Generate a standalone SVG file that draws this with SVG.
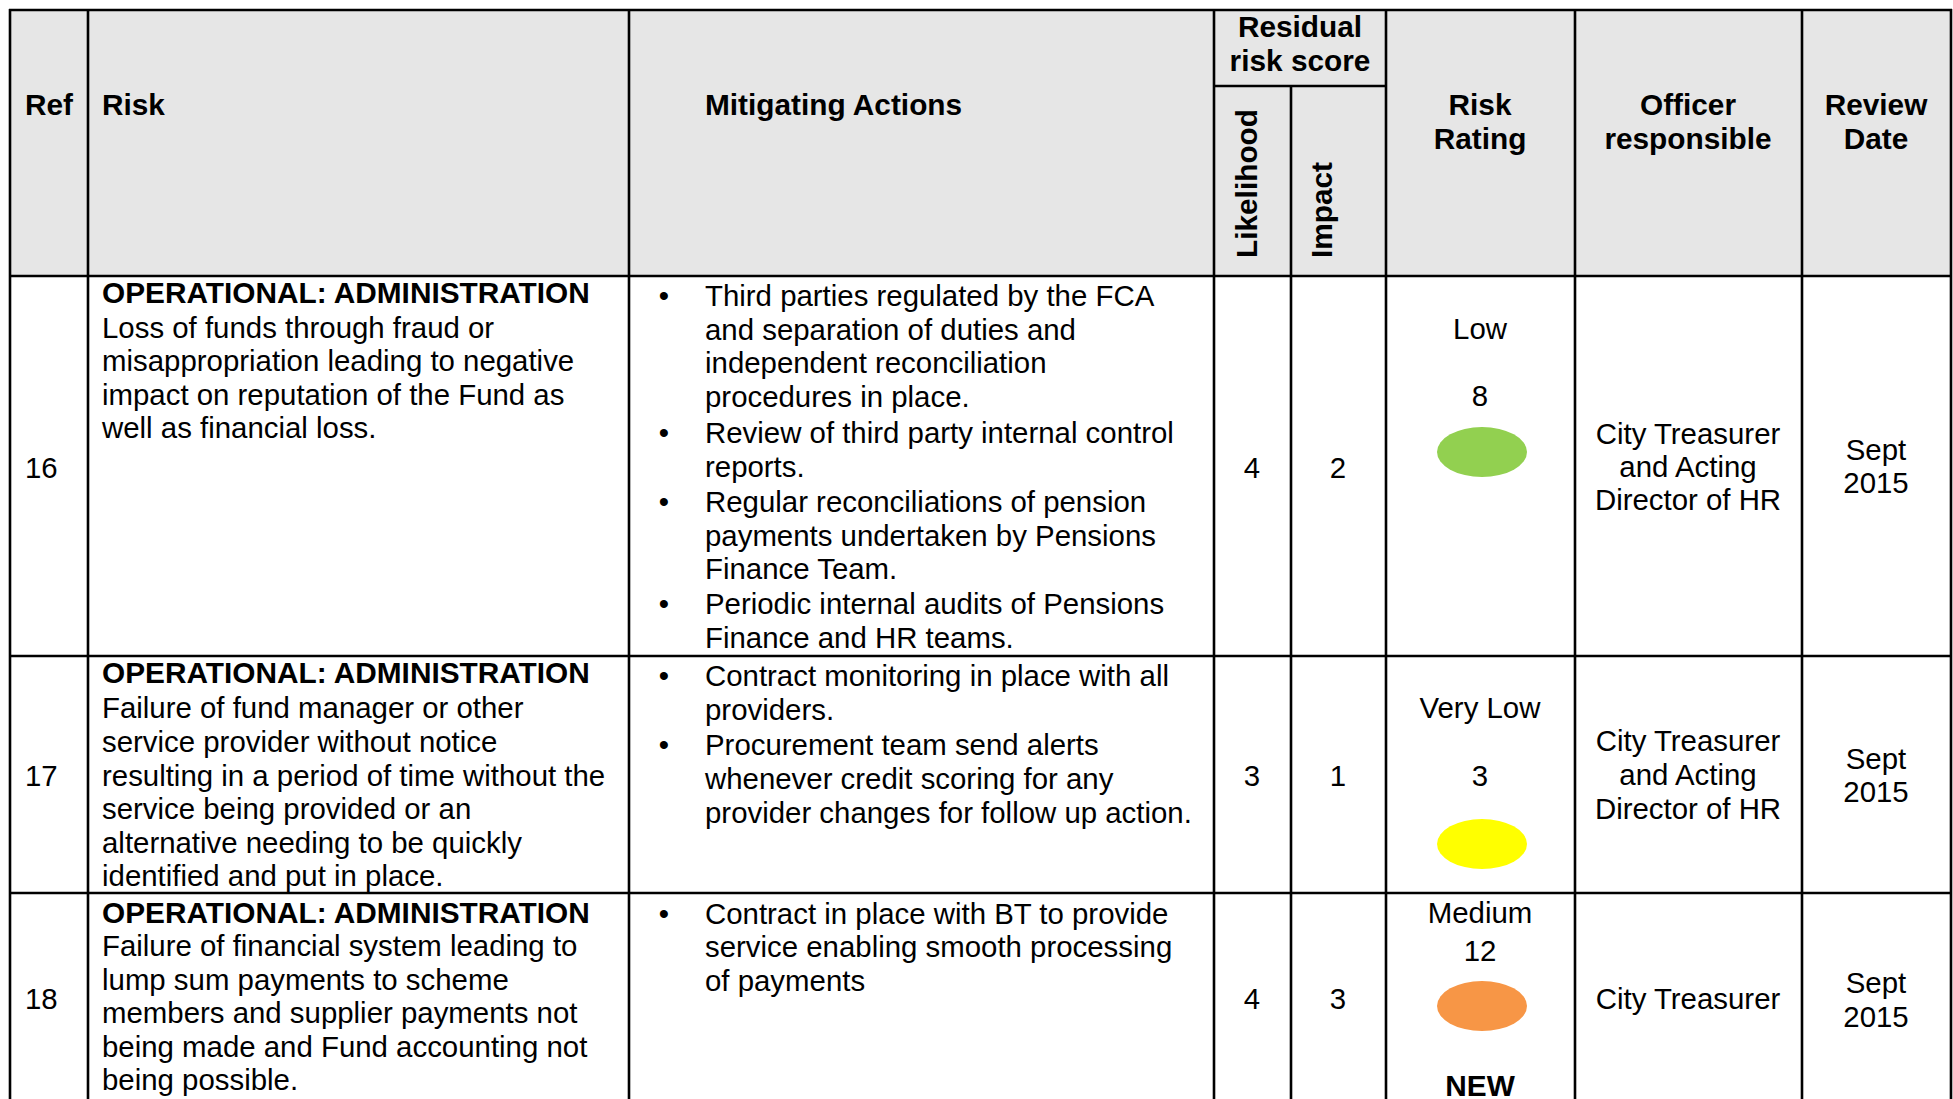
<svg xmlns="http://www.w3.org/2000/svg" width="1953" height="1099" viewBox="0 0 1953 1099">
<style>
text{font-family:"Liberation Sans",Arial,sans-serif;font-size:29.4px;fill:#000}
.b{font-weight:bold;font-size:29.8px}
.c{text-anchor:middle}
.grid line{stroke:#000;stroke-width:2.6}
</style>
<rect width="1953" height="1099" fill="#fff"/>
<rect x="10" y="10" width="1941" height="266" fill="#e6e6e6"/>

<g id="header">
<text class="b" x="25" y="115">Ref</text>
<text class="b" x="102" y="115">Risk</text>
<text class="b" x="705" y="115">Mitigating Actions</text>
<text class="b c" x="1300" y="37">Residual</text>
<text class="b c" x="1300" y="71">risk score</text>
<text class="b" transform="translate(1257,258) rotate(-90)">Likelihood</text>
<text class="b" transform="translate(1332,258) rotate(-90)">Impact</text>
<text class="b c" x="1480" y="115">Risk</text>
<text class="b c" x="1480" y="149">Rating</text>
<text class="b c" x="1688" y="115">Officer</text>
<text class="b c" x="1688" y="149">responsible</text>
<text class="b c" x="1876" y="115">Review</text>
<text class="b c" x="1876" y="149">Date</text>
</g>

<g id="row16">
<text x="25" y="478">16</text>
<text class="b" x="102" y="303">OPERATIONAL: ADMINISTRATION</text>
<text x="102" y="338">Loss of funds through fraud or</text>
<text x="102" y="371">misappropriation leading to negative</text>
<text x="102" y="405">impact on reputation of the Fund as</text>
<text x="102" y="438">well as financial loss.</text>
<text x="664" y="306" class="c">•</text>
<text x="705" y="306">Third parties regulated by the FCA</text>
<text x="705" y="340">and separation of duties and</text>
<text x="705" y="373">independent reconciliation</text>
<text x="705" y="407">procedures in place.</text>
<text x="664" y="443" class="c">•</text>
<text x="705" y="443">Review of third party internal control</text>
<text x="705" y="477">reports.</text>
<text x="664" y="512" class="c">•</text>
<text x="705" y="512">Regular reconciliations of pension</text>
<text x="705" y="546">payments undertaken by Pensions</text>
<text x="705" y="579">Finance Team.</text>
<text x="664" y="614" class="c">•</text>
<text x="705" y="614">Periodic internal audits of Pensions</text>
<text x="705" y="648">Finance and HR teams.</text>
<text class="c" x="1252" y="478">4</text>
<text class="c" x="1338" y="478">2</text>
<text class="c" x="1480" y="339">Low</text>
<text class="c" x="1480" y="406">8</text>
<ellipse cx="1482" cy="452" rx="45" ry="25" fill="#92d050"/>
<text class="c" x="1688" y="444">City Treasurer</text>
<text class="c" x="1688" y="477">and Acting</text>
<text class="c" x="1688" y="510">Director of HR</text>
<text class="c" x="1876" y="460">Sept</text>
<text class="c" x="1876" y="493">2015</text>
</g>

<g id="row17">
<text x="25" y="786">17</text>
<text class="b" x="102" y="683">OPERATIONAL: ADMINISTRATION</text>
<text x="102" y="718">Failure of fund manager or other</text>
<text x="102" y="752">service provider without notice</text>
<text x="102" y="786">resulting in a period of time without the</text>
<text x="102" y="819">service being provided or an</text>
<text x="102" y="853">alternative needing to be quickly</text>
<text x="102" y="886">identified and put in place.</text>
<text x="664" y="686" class="c">•</text>
<text x="705" y="686">Contract monitoring in place with all</text>
<text x="705" y="720">providers.</text>
<text x="664" y="755" class="c">•</text>
<text x="705" y="755">Procurement team send alerts</text>
<text x="705" y="789">whenever credit scoring for any</text>
<text x="705" y="823">provider changes for follow up action.</text>
<text class="c" x="1252" y="786">3</text>
<text class="c" x="1338" y="786">1</text>
<text class="c" x="1480" y="718">Very Low</text>
<text class="c" x="1480" y="786">3</text>
<ellipse cx="1482" cy="844" rx="45" ry="25" fill="#ffff00"/>
<text class="c" x="1688" y="751">City Treasurer</text>
<text class="c" x="1688" y="785">and Acting</text>
<text class="c" x="1688" y="819">Director of HR</text>
<text class="c" x="1876" y="769">Sept</text>
<text class="c" x="1876" y="802">2015</text>
</g>

<g id="row18">
<text x="25" y="1009">18</text>
<text class="b" x="102" y="923">OPERATIONAL: ADMINISTRATION</text>
<text x="102" y="956">Failure of financial system leading to</text>
<text x="102" y="990">lump sum payments to scheme</text>
<text x="102" y="1023">members and supplier payments not</text>
<text x="102" y="1057">being made and Fund accounting not</text>
<text x="102" y="1090">being possible.</text>
<text x="664" y="924" class="c">•</text>
<text x="705" y="924">Contract in place with BT to provide</text>
<text x="705" y="957">service enabling smooth processing</text>
<text x="705" y="991">of payments</text>
<text class="c" x="1252" y="1009">4</text>
<text class="c" x="1338" y="1009">3</text>
<text class="c" x="1480" y="923">Medium</text>
<text class="c" x="1480" y="961">12</text>
<ellipse cx="1482" cy="1006" rx="45" ry="25" fill="#f79646"/>
<text class="b c" x="1480" y="1096">NEW</text>
<text class="c" x="1688" y="1009">City Treasurer</text>
<text class="c" x="1876" y="993">Sept</text>
<text class="c" x="1876" y="1027">2015</text>
</g>

<g id="grid" class="grid">
<line x1="9" y1="10" x2="1952" y2="10"/>
<line x1="1214" y1="86" x2="1386" y2="86"/>
<line x1="9" y1="276" x2="1952" y2="276"/>
<line x1="9" y1="656" x2="1952" y2="656"/>
<line x1="9" y1="893" x2="1952" y2="893"/>
<line x1="10" y1="9" x2="10" y2="1099"/>
<line x1="88" y1="9" x2="88" y2="1099"/>
<line x1="629" y1="9" x2="629" y2="1099"/>
<line x1="1214" y1="9" x2="1214" y2="1099"/>
<line x1="1291" y1="86" x2="1291" y2="1099"/>
<line x1="1386" y1="9" x2="1386" y2="1099"/>
<line x1="1575" y1="9" x2="1575" y2="1099"/>
<line x1="1802" y1="9" x2="1802" y2="1099"/>
<line x1="1951" y1="9" x2="1951" y2="1099"/>
</g>
</svg>
